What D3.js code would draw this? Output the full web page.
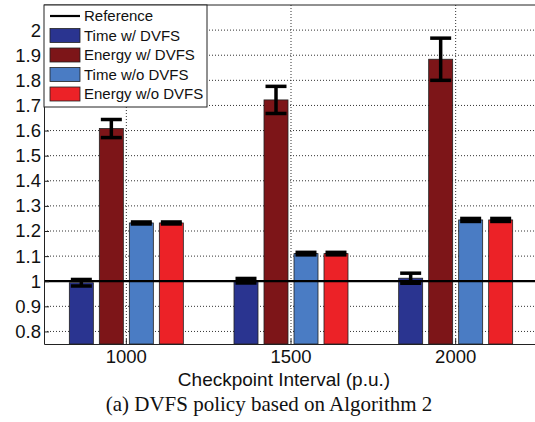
<!DOCTYPE html>
<html>
<head>
<meta charset="UTF-8">
<style>
  body { margin: 0; background: #fff; }
  svg { display: block; }
  text { font-family: "Liberation Sans", Arial, sans-serif; fill: #111; }
</style>
</head>
<body>
<svg width="535" height="422"></svg>
<script src="https://cdn.jsdelivr.net/npm/d3@7"></script>
<script>

    // data
    let categories = ["1000", "1500", "2000"];
    let series = ["Time w/ DVFS", "Energy w/ DVFS", "Time w/o DVFS", "Energy w/o DVFS"];
    let colors = ["#2a3490", "#7d1518", "#4a7cc4", "#ec2227"];

    let timeDvfs = [0.994, 1.002, 1.012];
    let energyDvfs = [1.608, 1.722, 1.884];
    let timeNoDvfs = [1.232, 1.110, 1.244];
    let energyNoDvfs = [1.232, 1.110, 1.244];

    let timeDvfsErr = [0.013, 0.009, 0.02];
    let energyDvfsErr = [0.036, 0.054, 0.084];
    let timeNoDvfsErr = [0.004, 0.005, 0.006];
    let energyNoDvfsErr = [0.004, 0.005, 0.006];

    let yTicks = [0.8, 0.9, 1, 1.1, 1.2, 1.3, 1.4, 1.5, 1.6, 1.7, 1.8, 1.9, 2];
    let referenceValue = 1;

    let values = [timeDvfs, energyDvfs, timeNoDvfs, energyNoDvfs];
    let errors = [timeDvfsErr, energyDvfsErr, timeNoDvfsErr, energyNoDvfsErr];

    let rows = [];
    series.forEach((s, i) => {
        categories.forEach((c, j) => {
            rows.push({ series: s, cat: c, value: values[i][j], err: errors[i][j], color: colors[i] });
        });
    });

    let svg = d3.select("svg");
    let mLeft = 44, mRight = 538, mTop = 5, mBottom = 344;

    let x = d3.scaleBand()
        .domain(categories)
        .range([mLeft, mRight])
        .padding(0);

    let y = d3.scaleLinear()
        .domain([0.75, 2.1])
        .range([mBottom, mTop]);

    // bars inside a group, 30px step, 24px wide
    let inner = d3.scaleBand()
        .domain(series)
        .range([-60, 60])
        .paddingInner(0.2)
        .paddingOuter(0.1);

    let plot = svg.append("g");

    // grid
    plot.append("g")
        .selectAll("line")
        .data(yTicks)
        .enter()
        .append("line")
        .attr("x1", mLeft).attr("x2", mRight)
        .attr("y1", d => y(d)).attr("y2", d => y(d))
        .attr("stroke", "#333")
        .attr("stroke-width", 1)
        .attr("stroke-dasharray", "1,2");

    plot.append("g")
        .selectAll("line")
        .data(categories)
        .enter()
        .append("line")
        .attr("x1", d => x(d) + x.bandwidth() / 2).attr("x2", d => x(d) + x.bandwidth() / 2)
        .attr("y1", mTop).attr("y2", mBottom)
        .attr("stroke", "#333")
        .attr("stroke-width", 1)
        .attr("stroke-dasharray", "1,2");

    // bars
    let cx = d => x(d.cat) + x.bandwidth() / 2 + inner(d.series);

    plot.append("g")
        .selectAll("rect")
        .data(rows)
        .enter()
        .append("rect")
        .attr("x", d => cx(d))
        .attr("width", inner.bandwidth())
        .attr("y", d => y(d.value))
        .attr("height", d => mBottom - y(d.value))
        .attr("fill", d => d.color)
        .attr("stroke", "#222")
        .attr("stroke-width", 0.8);

    // reference line
    plot.append("line")
        .attr("x1", mLeft).attr("x2", mRight)
        .attr("y1", y(referenceValue)).attr("y2", y(referenceValue))
        .attr("stroke", "#000")
        .attr("stroke-width", 2.2);

    // error bars
    let eb = plot.append("g")
        .selectAll("g")
        .data(rows)
        .enter()
        .append("g")
        .attr("stroke", "#000")
        .attr("stroke-width", 3.5);

    let capW = 21;
    eb.append("line")
        .attr("x1", d => cx(d) + inner.bandwidth() / 2)
        .attr("x2", d => cx(d) + inner.bandwidth() / 2)
        .attr("y1", d => y(d.value + d.err))
        .attr("y2", d => y(d.value - d.err));
    eb.append("line")
        .attr("x1", d => cx(d) + inner.bandwidth() / 2 - capW / 2)
        .attr("x2", d => cx(d) + inner.bandwidth() / 2 + capW / 2)
        .attr("y1", d => y(d.value + d.err))
        .attr("y2", d => y(d.value + d.err));
    eb.append("line")
        .attr("x1", d => cx(d) + inner.bandwidth() / 2 - capW / 2)
        .attr("x2", d => cx(d) + inner.bandwidth() / 2 + capW / 2)
        .attr("y1", d => y(d.value - d.err))
        .attr("y2", d => y(d.value - d.err));

    // axes
    let yAxis = svg.append("g")
        .attr("transform", "translate(" + mLeft + ",0)")
        .call(d3.axisLeft(y).tickValues(yTicks).tickFormat(d3.format("")).tickSizeInner(-5).tickSizeOuter(0).tickPadding(3));
    yAxis.select(".domain").attr("stroke", "#222");
    yAxis.selectAll(".tick line").attr("stroke", "#222");
    yAxis.selectAll("text").style("font-size", "18.5px").attr("x", -3);

    let xAxis = svg.append("g")
        .attr("transform", "translate(0," + mBottom + ")")
        .call(d3.axisBottom(x).tickSizeInner(-5).tickSizeOuter(0).tickPadding(6));
    xAxis.select(".domain").attr("stroke", "#222");
    xAxis.selectAll(".tick line").attr("stroke", "#222");
    xAxis.selectAll("text").style("font-size", "18.5px");

    svg.append("line")
        .attr("x1", mLeft).attr("x2", mRight)
        .attr("y1", mTop).attr("y2", mTop)
        .attr("stroke", "#222");

    svg.append("text")
        .attr("x", 284)
        .attr("y", 386)
        .attr("text-anchor", "middle")
        .style("font-size", "19px")
        .text("Checkpoint Interval (p.u.)");

    svg.append("text")
        .attr("x", 269)
        .attr("y", 411)
        .attr("text-anchor", "middle")
        .style("font-family", "'Liberation Serif', 'Times New Roman', serif")
        .style("font-size", "21px")
        .text("(a) DVFS policy based on Algorithm 2");

    // legend
    let legend = svg.append("g");
    legend.append("rect")
        .attr("x", mLeft).attr("y", mTop)
        .attr("width", 163).attr("height", 102)
        .attr("fill", "#fff")
        .attr("stroke", "#222");

    let legendItems = ["Reference"].concat(series);
    let ly = d3.scalePoint().domain(legendItems).range([16, 94]);

    legend.append("line")
        .attr("x1", 50).attr("x2", 80)
        .attr("y1", ly("Reference")).attr("y2", ly("Reference"))
        .attr("stroke", "#000").attr("stroke-width", 2.2);

    legend.selectAll("rect.sw")
        .data(series)
        .enter()
        .append("rect")
        .attr("class", "sw")
        .attr("x", 50).attr("width", 30)
        .attr("y", d => ly(d) - 7).attr("height", 14)
        .attr("fill", (d, i) => colors[i])
        .attr("stroke", "#222")
        .attr("stroke-width", 0.8);

    legend.selectAll("text")
        .data(legendItems)
        .enter()
        .append("text")
        .attr("x", 84)
        .attr("y", d => ly(d))
        .attr("dy", "0.36em")
        .style("font-size", "15px")
        .text(d => d);

</script>
</body>
</html>
